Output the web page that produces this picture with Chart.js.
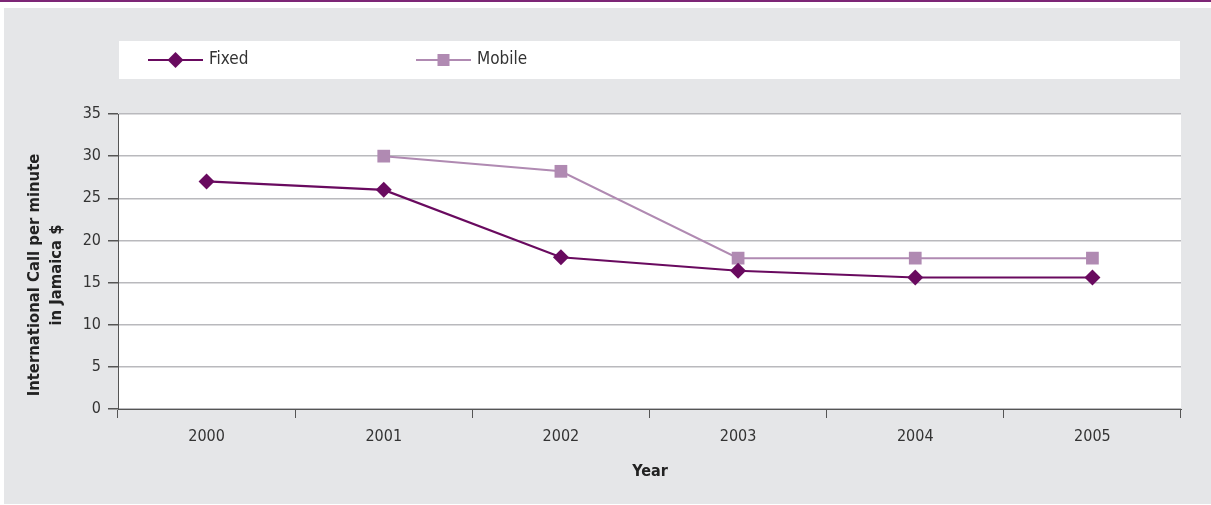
<!DOCTYPE html>
<html>
<head>
<meta charset="utf-8">
<script src="https://cdn.jsdelivr.net/npm/chart.js@4/dist/chart.umd.min.js"></script>
<style>
  body { margin: 0; background: #fff; }
  #wrap { width: 1211px; height: 505px; }
</style>
</head>
<body>
<div id="wrap"><canvas id="chart" width="1211" height="505"></canvas></div>
<script>
// Chart data
const years = ['2000', '2001', '2002', '2003', '2004', '2005'];
const fixedCost = [27, 26, 18, 16.4, 15.6, 15.6];
const mobileCost = [null, 30, 28.2, 17.9, 17.9, 17.9];
const yTicks = [0, 5, 10, 15, 20, 25, 30, 35];

const FONT = '"Liberation Sans Narrow", "DejaVu Sans Condensed", "Roboto", sans-serif';
const FIXED_COLOR = '#690a5f';
const MOBILE_COLOR = '#b08ab2';

// Background panels, legend box and titles
const framePlugin = {
    id: 'frame',
    beforeDraw(chart) {
        const ctx = chart.ctx;
        const area = chart.chartArea;
        ctx.save();
        ctx.fillStyle = '#ffffff';
        ctx.fillRect(0, 0, chart.width, chart.height);
        ctx.fillStyle = '#7d2676';
        ctx.fillRect(0, 0, chart.width, 2);
        ctx.fillStyle = '#e5e6e8';
        ctx.fillRect(4, 8, chart.width - 4, chart.height - 9);
        // legend box
        ctx.fillStyle = '#ffffff';
        ctx.fillRect(119, 41, 1061, 38);
        // plot area
        ctx.fillRect(area.left, area.top, area.right - area.left, area.bottom - area.top);
        ctx.restore();
    },
    afterDraw(chart) {
        const ctx = chart.ctx;
        const area = chart.chartArea;
        ctx.save();

        // legend
        const items = [
            { x: 148, ds: chart.data.datasets[0] },
            { x: 416, ds: chart.data.datasets[1] }
        ];
        ctx.font = '17px ' + FONT;
        ctx.textBaseline = 'middle';
        items.forEach(item => {
            const y = 60;
            ctx.strokeStyle = item.ds.borderColor;
            ctx.lineWidth = 2;
            ctx.beginPath();
            ctx.moveTo(item.x, y);
            ctx.lineTo(item.x + 55, y);
            ctx.stroke();
            const cx = item.x + 27.5;
            ctx.fillStyle = item.ds.pointBackgroundColor;
            if (item.ds.pointStyle === 'rectRot') {
                ctx.beginPath();
                ctx.moveTo(cx, y - 8);
                ctx.lineTo(cx + 8, y);
                ctx.lineTo(cx, y + 8);
                ctx.lineTo(cx - 8, y);
                ctx.closePath();
                ctx.fill();
            } else {
                ctx.fillRect(cx - 6, y - 6, 12, 12);
            }
            ctx.fillStyle = '#333333';
            ctx.textAlign = 'left';
            ctx.fillText(item.ds.label, item.x + 61, y);
        });

        // axis titles
        ctx.fillStyle = '#222222';
        ctx.font = 'bold 16px ' + FONT;
        ctx.textAlign = 'center';
        ctx.fillText('Year', (area.left + area.right) / 2 + 0.5, 472);

        ctx.font = 'bold 16.5px ' + FONT;
        ctx.translate(46, 275);
        ctx.rotate(-Math.PI / 2);
        ctx.fillText('International Call per minute', 0, -11);
        ctx.fillText('in Jamaica $', 0, 11);
        ctx.restore();
    }
};

new Chart(document.getElementById('chart'), {
    type: 'line',
    data: {
        labels: years,
        datasets: [
            {
                label: 'Fixed',
                data: fixedCost,
                borderColor: FIXED_COLOR,
                backgroundColor: FIXED_COLOR,
                pointBackgroundColor: FIXED_COLOR,
                pointBorderColor: FIXED_COLOR,
                pointStyle: 'rectRot',
                pointRadius: 8,
                pointBorderWidth: 0,
                borderWidth: 2.2,
                tension: 0
            },
            {
                label: 'Mobile',
                data: mobileCost,
                borderColor: MOBILE_COLOR,
                backgroundColor: MOBILE_COLOR,
                pointBackgroundColor: MOBILE_COLOR,
                pointBorderColor: MOBILE_COLOR,
                pointStyle: 'rect',
                pointRadius: 9,
                pointBorderWidth: 0,
                borderWidth: 2,
                tension: 0
            }
        ]
    },
    options: {
        responsive: false,
        animation: false,
        layout: {
            padding: { top: 114, right: 30, left: 0, bottom: 0 }
        },
        plugins: {
            legend: { display: false },
            tooltip: { enabled: false }
        },
        scales: {
            x: {
                offset: true,
                afterFit(scale) { scale.height = 96; },
                grid: {
                    offset: true,
                    drawOnChartArea: false,
                    drawTicks: true,
                    tickLength: 9,
                    tickColor: '#555555'
                },
                border: { color: '#555555', width: 1 },
                ticks: {
                    color: '#333333',
                    padding: 9,
                    font: { family: FONT, size: 16 }
                }
            },
            y: {
                min: 0,
                max: 35,
                afterFit(scale) { scale.width = 118; },
                afterBuildTicks(scale) {
                    scale.ticks = yTicks.map(v => ({ value: v }));
                },
                grid: {
                    color: '#b9b9bd',
                    lineWidth: 1.5,
                    drawTicks: true,
                    tickLength: 10,
                    tickColor: '#555555'
                },
                border: { color: '#555555', width: 1 },
                ticks: {
                    color: '#333333',
                    padding: 7,
                    font: { family: FONT, size: 16 }
                }
            }
        }
    },
    plugins: [framePlugin]
});
</script>
</body>
</html>
